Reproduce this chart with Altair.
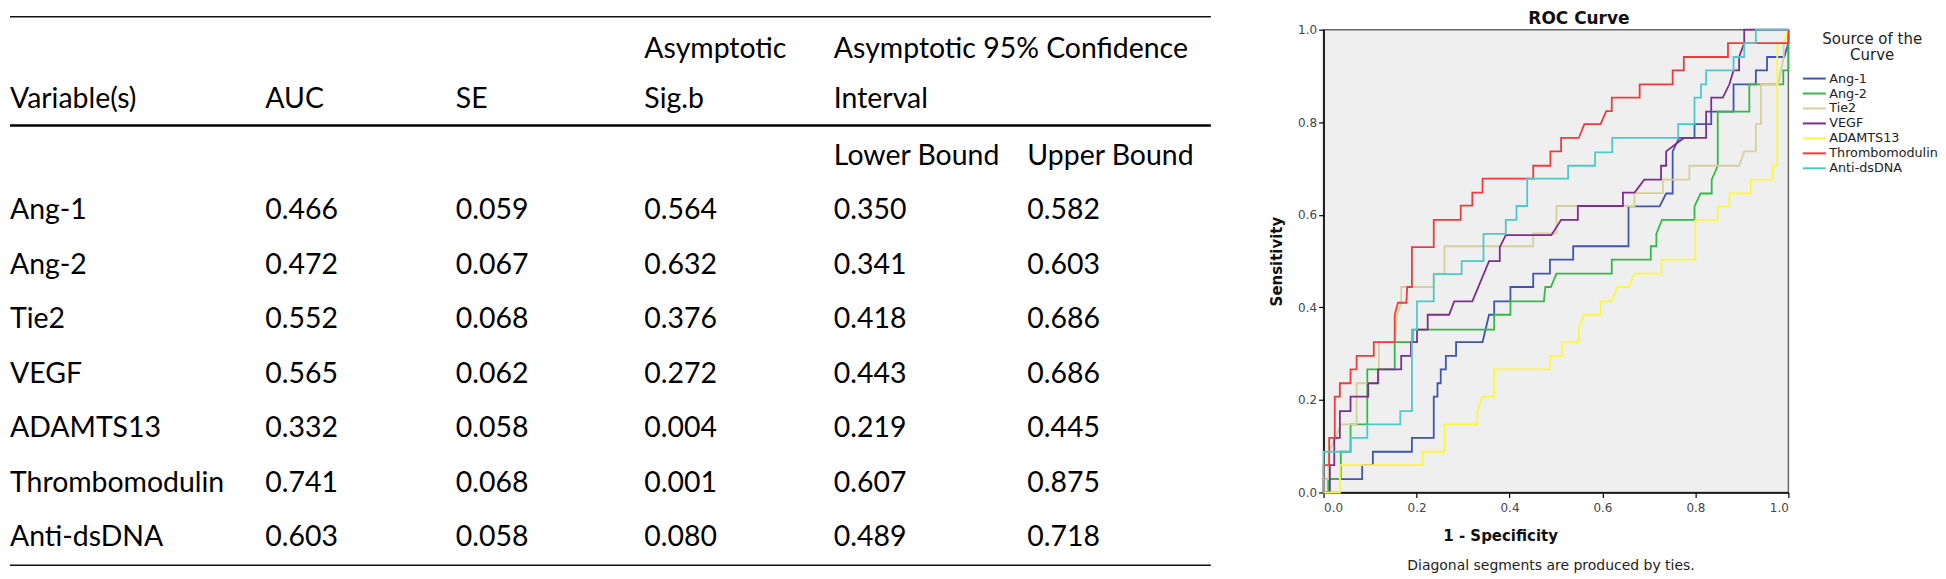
import altair as alt
import pandas as pd

# ---------------- table values ----------------
variables = ["Ang-1", "Ang-2", "Tie2", "VEGF", "ADAMTS13", "Thrombomodulin", "Anti-dsDNA"]
auc = [0.466, 0.472, 0.552, 0.565, 0.332, 0.741, 0.603]
se = [0.059, 0.067, 0.068, 0.062, 0.058, 0.068, 0.058]
sig = [0.564, 0.632, 0.376, 0.272, 0.004, 0.001, 0.080]
lower = [0.350, 0.341, 0.418, 0.443, 0.219, 0.607, 0.489]
upper = [0.582, 0.603, 0.686, 0.686, 0.445, 0.875, 0.718]

header_row0 = ["", "", "", "Asymptotic", "Asymptotic 95% Confidence", ""]
header_row1 = ["Variable(s)", "AUC", "SE", "Sig.b", "Interval", ""]
header_row2 = ["", "", "", "", "Lower Bound", "Upper Bound"]

# ---------------- ROC curves (1 - specificity, sensitivity) ----------------
ang1 = [(0, 0), (0, 0.029), (0.083, 0.029), (0.083, 0.059), (0.106, 0.059), (0.106, 0.088),
        (0.19, 0.088), (0.19, 0.118), (0.237, 0.118), (0.237, 0.207), (0.245, 0.207), (0.245, 0.236),
        (0.252, 0.236), (0.252, 0.266), (0.263, 0.266), (0.263, 0.295), (0.285, 0.295), (0.285, 0.325),
        (0.342, 0.325), (0.356, 0.384), (0.367, 0.384), (0.367, 0.413), (0.402, 0.413), (0.402, 0.444),
        (0.451, 0.444), (0.451, 0.473), (0.487, 0.473), (0.487, 0.503), (0.537, 0.503), (0.537, 0.532),
        (0.656, 0.532), (0.656, 0.618), (0.723, 0.618), (0.737, 0.646), (0.751, 0.646), (0.751, 0.737),
        (0.765, 0.766), (0.798, 0.766), (0.798, 0.796), (0.834, 0.796), (0.834, 0.823), (0.882, 0.823),
        (0.882, 0.882), (0.93, 0.882), (0.93, 0.912), (0.954, 0.912), (0.954, 0.941), (0.991, 0.941),
        (1, 0.971), (1, 1)]
ang2 = [(0, 0), (0.01, 0), (0.01, 0.029), (0.037, 0.029), (0.037, 0.088), (0.058, 0.088),
        (0.058, 0.147), (0.094, 0.147), (0.094, 0.266), (0.153, 0.266), (0.153, 0.325), (0.192, 0.325),
        (0.192, 0.352), (0.367, 0.352), (0.367, 0.384), (0.402, 0.384), (0.402, 0.413), (0.474, 0.413),
        (0.477, 0.444), (0.489, 0.444), (0.501, 0.473), (0.62, 0.473), (0.62, 0.503), (0.704, 0.503),
        (0.704, 0.532), (0.716, 0.532), (0.716, 0.559), (0.728, 0.589), (0.798, 0.589), (0.798, 0.618),
        (0.811, 0.646), (0.835, 0.646), (0.835, 0.676), (0.848, 0.706), (0.848, 0.823), (0.916, 0.823),
        (0.916, 0.882), (0.989, 0.882), (0.989, 0.912), (1, 0.912), (1, 1)]
tie2 = [(0, 0), (0, 0.029), (0.011, 0.029), (0.011, 0.088), (0.026, 0.118), (0.037, 0.147),
        (0.071, 0.147), (0.071, 0.236), (0.119, 0.236), (0.119, 0.325), (0.153, 0.325), (0.158, 0.384),
        (0.167, 0.41), (0.167, 0.444), (0.237, 0.444), (0.237, 0.473), (0.26, 0.473), (0.26, 0.532),
        (0.451, 0.532), (0.451, 0.56), (0.501, 0.56), (0.501, 0.619), (0.669, 0.619), (0.669, 0.647),
        (0.73, 0.647), (0.73, 0.676), (0.787, 0.676), (0.787, 0.706), (0.894, 0.706), (0.905, 0.737),
        (0.93, 0.737), (0.93, 0.796), (0.941, 0.796), (0.941, 0.882), (0.978, 0.882), (0.99, 0.941),
        (0.99, 0.971), (1, 0.971), (1, 1)]
vegf = [(0, 0), (0.0135, 0), (0.0135, 0.059), (0.023, 0.059), (0.023, 0.118), (0.035, 0.118),
        (0.035, 0.176), (0.058, 0.176), (0.058, 0.207), (0.096, 0.207), (0.096, 0.236), (0.117, 0.236),
        (0.117, 0.266), (0.167, 0.266), (0.167, 0.295), (0.188, 0.295), (0.188, 0.325), (0.201, 0.325),
        (0.201, 0.352), (0.224, 0.352), (0.224, 0.384), (0.27, 0.384), (0.281, 0.413), (0.32, 0.413),
        (0.356, 0.5), (0.379, 0.5), (0.379, 0.53), (0.392, 0.556), (0.49, 0.556), (0.511, 0.589),
        (0.547, 0.589), (0.547, 0.619), (0.644, 0.619), (0.644, 0.648), (0.669, 0.648), (0.69, 0.676),
        (0.726, 0.676), (0.726, 0.706), (0.737, 0.706), (0.737, 0.737), (0.775, 0.766), (0.823, 0.766),
        (0.823, 0.823), (0.834, 0.823), (0.834, 0.853), (0.859, 0.853), (0.873, 0.882), (0.882, 0.912),
        (0.894, 0.912), (0.894, 0.941), (0.905, 0.971), (0.905, 1.0), (1, 1)]
adamts13 = [(0, 0), (0.035, 0), (0.035, 0.059), (0.213, 0.059), (0.213, 0.088), (0.26, 0.088),
            (0.26, 0.147), (0.331, 0.147), (0.331, 0.176), (0.342, 0.207), (0.367, 0.207), (0.367, 0.266),
            (0.487, 0.266), (0.487, 0.295), (0.513, 0.295), (0.513, 0.325), (0.549, 0.325), (0.549, 0.353),
            (0.56, 0.384), (0.596, 0.384), (0.596, 0.413), (0.62, 0.413), (0.632, 0.444), (0.656, 0.444),
            (0.669, 0.473), (0.727, 0.473), (0.727, 0.503), (0.8, 0.503), (0.8, 0.589), (0.848, 0.589),
            (0.848, 0.618), (0.873, 0.618), (0.873, 0.646), (0.919, 0.646), (0.919, 0.676), (0.966, 0.676),
            (0.966, 0.706), (0.976, 0.706), (0.976, 0.971), (0.99, 0.971), (1, 1)]
thrombomodulin = [(0, 0), (0, 0.059), (0.012, 0.059), (0.012, 0.118), (0.024, 0.118), (0.024, 0.207),
                  (0.035, 0.207), (0.035, 0.236), (0.058, 0.236), (0.058, 0.266), (0.071, 0.266),
                  (0.071, 0.295), (0.108, 0.295), (0.108, 0.325), (0.153, 0.325), (0.153, 0.384),
                  (0.16, 0.41), (0.178, 0.41), (0.18, 0.444), (0.19, 0.444), (0.19, 0.53), (0.237, 0.53),
                  (0.237, 0.589), (0.295, 0.589), (0.295, 0.62), (0.32, 0.62), (0.32, 0.648), (0.342, 0.648),
                  (0.342, 0.678), (0.451, 0.678), (0.451, 0.706), (0.488, 0.706), (0.488, 0.737),
                  (0.511, 0.737), (0.511, 0.766), (0.549, 0.766), (0.561, 0.796), (0.596, 0.796),
                  (0.608, 0.824), (0.62, 0.824), (0.62, 0.853), (0.68, 0.853), (0.68, 0.882), (0.751, 0.882),
                  (0.751, 0.912), (0.775, 0.912), (0.775, 0.941), (0.87, 0.941), (0.87, 0.971), (1, 0.971),
                  (1, 1)]
anti_dsdna = [(0, 0), (0, 0.088), (0.058, 0.088), (0.058, 0.118), (0.094, 0.118), (0.094, 0.147),
              (0.165, 0.147), (0.165, 0.176), (0.19, 0.176), (0.19, 0.352), (0.201, 0.352), (0.201, 0.413),
              (0.237, 0.413), (0.237, 0.472), (0.297, 0.472), (0.297, 0.5), (0.344, 0.5), (0.344, 0.559),
              (0.392, 0.559), (0.392, 0.589), (0.415, 0.589), (0.415, 0.619), (0.438, 0.619), (0.438, 0.678),
              (0.526, 0.678), (0.526, 0.706), (0.584, 0.706), (0.584, 0.735), (0.621, 0.735), (0.621, 0.766),
              (0.763, 0.766), (0.763, 0.796), (0.798, 0.796), (0.798, 0.853), (0.812, 0.853), (0.812, 0.882),
              (0.823, 0.882), (0.823, 0.912), (0.882, 0.912), (0.882, 0.941), (0.905, 0.941), (0.905, 0.971),
              (0.93, 0.971), (0.93, 1.0), (1, 1)]

roc_names = variables
roc_curves = [ang1, ang2, tie2, vegf, adamts13, thrombomodulin, anti_dsdna]
roc_colors = ["#3e56b0", "#34b84a", "#d6d09a", "#7d2e8c", "#fcf83c", "#f23a3c", "#4ccacb"]

x_ticks = [0.0, 0.2, 0.4, 0.6, 0.8, 1.0]
y_ticks = [0.0, 0.2, 0.4, 0.6, 0.8, 1.0]
footnote = ["Diagonal segments are produced by ties."]

# ---------------- build frames ----------------
cells = []
for r, hdr in enumerate([header_row0, header_row1, header_row2]):
    for c, t in enumerate(hdr):
        if t:
            cells.append({"row": r, "col": c, "label": t})
for i, v in enumerate(variables):
    r = 3 + i
    vals = [v, f"{auc[i]:.3f}", f"{se[i]:.3f}", f"{sig[i]:.3f}", f"{lower[i]:.3f}", f"{upper[i]:.3f}"]
    for c, t in enumerate(vals):
        cells.append({"row": r, "col": c, "label": t})
table_df = pd.DataFrame(cells)
thin_rules = pd.DataFrame({"row": [-0.5, 9.5]})
thick_rules = pd.DataFrame({"row": [1.5]})

TABLE_W = 1204
PLOT_W = 466
PLOT_H = 464

col_scale = alt.Scale(domain=[0, 1, 2, 3, 4, 5], range=[0, 256, 447, 636, 826, 1020], nice=False, zero=False)
row_scale = alt.Scale(domain=[-0.5, 0, 1, 1.5, 2, 3, 9, 9.5],
                      range=[-13, 19, 70, 96, 127, 181, 509, 537], nice=False, zero=False)

txt_kw = dict(align="left", baseline="middle", font="Lato", fontSize=28.5, color="#000000")
enc_x = alt.X("col:Q", scale=col_scale, axis=None)
enc_y = alt.Y("row:Q", scale=row_scale, axis=None)

body = alt.Chart(table_df).mark_text(**txt_kw).encode(x=enc_x, y=enc_y, text="label:N")
r_thin = alt.Chart(thin_rules).mark_rule(color="#111111", strokeWidth=1.5).encode(
    y=alt.Y("row:Q", scale=row_scale, axis=None), x=alt.value(0), x2=alt.value(TABLE_W))
r_thick = alt.Chart(thick_rules).mark_rule(color="#000000", strokeWidth=2.5).encode(
    y=alt.Y("row:Q", scale=row_scale, axis=None), x=alt.value(0), x2=alt.value(TABLE_W))

table = alt.layer(r_thin, r_thick, body).properties(
    width=TABLE_W, height=PLOT_H, view=alt.ViewBackground(stroke="transparent", fill="transparent"))

rows = []
for name, pts in zip(roc_names, roc_curves):
    for k, (fx, ty) in enumerate(pts):
        rows.append({"curve": name, "fpr": fx, "tpr": ty, "idx": k})
roc_df = pd.DataFrame(rows)

axis_common = dict(domainColor="#000000", domainWidth=1.5, tickColor="#000000", tickWidth=1.2, tickSize=5,
                   labelFont="DejaVu Sans", labelFontSize=12, labelColor="#444444", grid=False,
                   format=".1f", titleFont="DejaVu Sans", titleFontSize=15, titleFontWeight="bold",
                   titleColor="#111111")

lines = alt.Chart(roc_df).mark_line(strokeWidth=1.8).encode(
    x=alt.X("fpr:Q", scale=alt.Scale(domain=[0, 1], nice=False, zero=False),
            axis=alt.Axis(values=x_ticks, title="1 - Specificity", titlePadding=15, titleX=177,
                          titleAnchor="start", titleAlign="center", labelPadding=5, **axis_common)),
    y=alt.Y("tpr:Q", scale=alt.Scale(domain=[0, 1], nice=False, zero=False),
            axis=alt.Axis(values=y_ticks, title="Sensitivity", titlePadding=13, labelPadding=2,
                          **axis_common)),
    color=alt.Color("curve:N", scale=alt.Scale(domain=roc_names, range=roc_colors), sort=roc_names,
                    legend=alt.Legend(title=["Source of the", "Curve"], orient="none", legendX=1801, legendY=2,
                                      symbolType="M-1.65,0H1.65", symbolSize=196, symbolStrokeWidth=2,
                                      labelFont="DejaVu Sans", labelFontSize=12.8, labelColor="#222222",
                                      labelOffset=7, titleFont="DejaVu Sans", titleFontSize=15,
                                      titleFontWeight="normal", titleColor="#222222", titleAlign="center",
                                      titleAnchor="middle", titleLineHeight=16, titlePadding=8,
                                      rowPadding=0, padding=0)),
    order="idx:Q",
)

note = alt.Chart(pd.DataFrame({"t": footnote})).mark_text(
    font="DejaVu Sans", fontSize=14, color="#222222", align="center", baseline="middle").encode(
    text="t:N", x=alt.value(228), y=alt.value(PLOT_H + 74))

roc = alt.layer(lines, note).properties(
    width=PLOT_W, height=PLOT_H,
    title=alt.TitleParams("ROC Curve", font="DejaVu Sans", fontSize=17, fontWeight="bold", color="#111111",
                          anchor="middle", dx=23, offset=-4),
    view=alt.ViewBackground(fill="#efefef", stroke="#666666", strokeWidth=1.5))

chart = alt.hconcat(table, roc, spacing=113, bounds="flush").properties(padding=0)

chart.save("out.html", embed_options={"renderer": "svg", "actions": False})
